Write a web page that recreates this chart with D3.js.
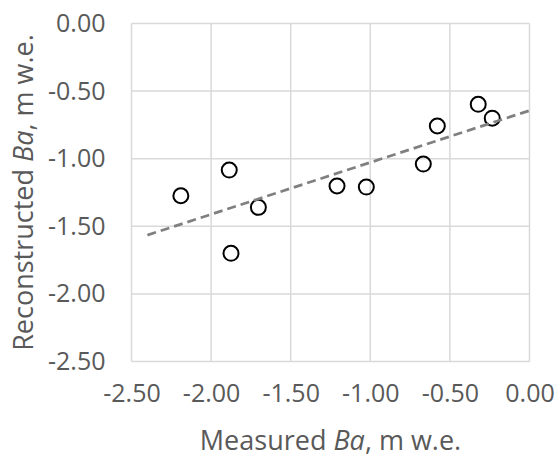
<!DOCTYPE html>
<html>
<head>
<meta charset="utf-8">
<script src="https://cdn.jsdelivr.net/npm/d3@7/dist/d3.min.js"></script>
<style>
  html, body { margin: 0; padding: 0; background: #fff; }
  text { font-family: 'Open Sans', sans-serif; fill: #595959; }
</style>
</head>
<body>
<div id="chart"></div>
<script>
// measured vs reconstructed annual balance, m w.e.
const measured      = [-2.19, -1.886, -1.703, -1.875, -1.209, -1.025, -0.667, -0.579, -0.322, -0.234]
const reconstructed = [-1.274, -1.084, -1.36, -1.70, -1.202, -1.21, -1.04, -0.758, -0.598, -0.70]
const xTicks = [-2.5, -2.0, -1.5, -1.0, -0.5, 0.0]
const yTicks = [0.0, -0.5, -1.0, -1.5, -2.0, -2.5]
const trendExtent = [-2.4, 0.0]

const width = 557, height = 457
const margin = { top: 23.5, right: 27.5, bottom: 95.5, left: 131.5 }

const svg = d3.select('#chart').append('svg')
  .attr('width', width)
  .attr('height', height)

const x = d3.scaleLinear().domain([-2.5, 0]).range([margin.left, width - margin.right])
const y = d3.scaleLinear().domain([-2.5, 0]).range([height - margin.bottom, margin.top])

// excel style labels use a plain hyphen
const fmt = d => d.toFixed(2)

// grid
const grid = svg.append('g').attr('stroke', '#d9d9d9').attr('stroke-width', 1.5)
grid.selectAll('.vx').data(xTicks).join('line')
  .attr('x1', d => x(d)).attr('x2', d => x(d))
  .attr('y1', y(0)).attr('y2', y(-2.5))
grid.selectAll('.hy').data(yTicks).join('line')
  .attr('x1', x(-2.5)).attr('x2', x(0))
  .attr('y1', d => y(d)).attr('y2', d => y(d))

// axes (labels only)
const xAxis = svg.append('g')
  .attr('transform', `translate(0,${y(-2.5)})`)
  .call(d3.axisBottom(x).tickValues(xTicks).tickFormat(fmt).tickSize(0).tickPadding(23))
xAxis.select('.domain').remove()
xAxis.selectAll('text').attr('font-size', 25).attr('font-family', 'Open Sans').attr('fill', '#595959')

const yAxis = svg.append('g')
  .attr('transform', `translate(${x(-2.5)},0)`)
  .call(d3.axisLeft(y).tickValues(yTicks).tickFormat(fmt).tickSize(0).tickPadding(26))
yAxis.select('.domain').remove()
yAxis.selectAll('text').attr('font-size', 25).attr('font-family', 'Open Sans').attr('fill', '#595959')

// points
svg.selectAll('.pt').data(measured).join('circle')
  .attr('class', 'pt')
  .attr('cx', d => x(d))
  .attr('cy', (d, i) => y(reconstructed[i]))
  .attr('r', 7.5)
  .attr('fill', 'none')
  .attr('stroke', '#000')
  .attr('stroke-width', 2)

// linear trend (least squares), drawn over the markers
const mx = d3.mean(measured), my = d3.mean(reconstructed)
const sxy = d3.sum(measured, (v, i) => (v - mx) * (reconstructed[i] - my))
const sxx = d3.sum(measured, v => (v - mx) * (v - mx))
const slope = sxy / sxx, icpt = my - slope * mx

svg.append('line')
  .attr('x1', x(trendExtent[0])).attr('y1', y(slope * trendExtent[0] + icpt))
  .attr('x2', x(trendExtent[1])).attr('y2', y(slope * trendExtent[1] + icpt))
  .attr('stroke', '#808080')
  .attr('stroke-width', 2.75)
  .attr('stroke-dasharray', '9,5')

// titles
const xt = svg.append('text')
  .attr('x', (x(-2.5) + x(0)) / 2)
  .attr('y', 450)
  .attr('text-anchor', 'middle')
  .attr('font-size', 27)
xt.append('tspan').text('Measured ')
xt.append('tspan').attr('font-style', 'italic').text('Ba')
xt.append('tspan').text(', m w.e.')

const yt = svg.append('text')
  .attr('transform', `translate(33,${(y(0) + y(-2.5)) / 2}) rotate(-90)`)
  .attr('text-anchor', 'middle')
  .attr('font-size', 27)
yt.append('tspan').text('Reconstructed ')
yt.append('tspan').attr('font-style', 'italic').text('Ba')
yt.append('tspan').text(', m w.e.')
</script>
</body>
</html>
